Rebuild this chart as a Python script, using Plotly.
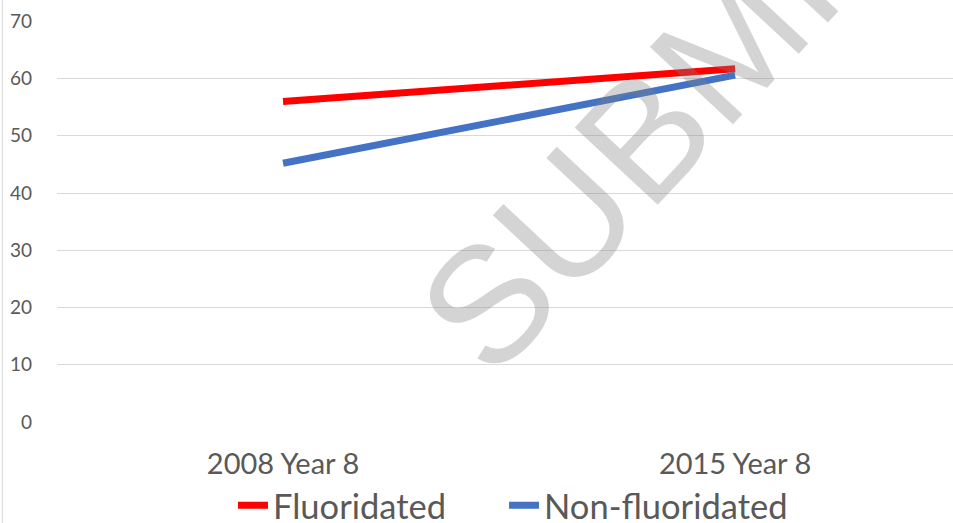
import plotly.graph_objects as go

categories = ["2008 Year 8", "2015 Year 8"]
fluoridated = [56.0, 61.7]
non_fluoridated = [45.2, 60.6]
y_ticks = [0, 10, 20, 30, 40, 50, 60, 70]
series_names = ["Fluoridated", "Non-fluoridated"]

FONT = "Lato"
NBSP = "\u00a0"

fig = go.Figure()
fig.add_trace(go.Scatter(x=categories, y=fluoridated, mode="lines",
                         name=series_names[0] + NBSP * 6,
                         line=dict(color="#FF0000", width=7)))
fig.add_trace(go.Scatter(x=categories, y=non_fluoridated, mode="lines",
                         name=series_names[1],
                         line=dict(color="#4472C4", width=7)))

fig.add_annotation(text="SUBMITTED", xref="paper", yref="paper", x=0.802, y=1.065,
                   xanchor="center", yanchor="middle",
                   textangle=-47, showarrow=False,
                   font=dict(family="Liberation Sans", size=165, color="rgba(128,128,128,0.34)"))

fig.add_shape(type="line", xref="paper", yref="paper", x0=-0.061, x1=-0.061, y0=-0.3, y1=1.1,
              line=dict(color="#d9d9d9", width=1))

fig.update_layout(
    width=953, height=523,
    margin=dict(l=57, r=0, t=21, b=101, autoexpand=False),
    plot_bgcolor="white", paper_bgcolor="white",
    font=dict(family=FONT, color="#595959"),
    showlegend=True,
    legend=dict(orientation="h", x=(233 - 57) / 896, xanchor="left", y=-0.208, yanchor="middle",
                font=dict(size=34.5, color="#595959"), itemwidth=30, tracegroupgap=0),
    xaxis=dict(type="category", range=[-0.5, 1.482], showgrid=False, zeroline=False,
               showline=False, ticks="", tickfont=dict(size=29, color="#595959"),
               ticklabelstandoff=22),
    yaxis=dict(range=[0, 70.05], tickvals=y_ticks, showgrid=True, gridcolor="#d9d9d9",
               gridwidth=1, zeroline=False, showline=False, ticks="",
               tickfont=dict(size=19, color="#595959"), ticklabelstandoff=24),
)

fig.write_html("out.html", config={"displayModeBar": False},
               post_script="document.body.style.margin='0';document.body.style.overflow='hidden';")
